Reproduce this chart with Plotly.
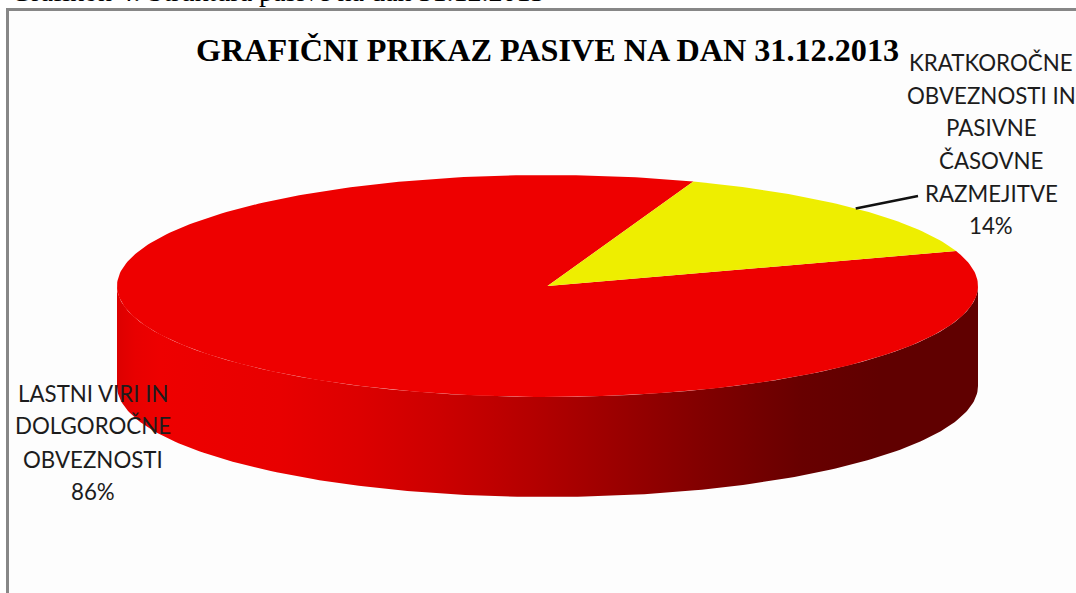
import math
import plotly.graph_objects as go

# ---- data ----
categories = ["LASTNI VIRI IN DOLGOROČNE OBVEZNOSTI",
              "KRATKOROČNE OBVEZNOSTI IN PASIVNE ČASOVNE RAZMEJITVE"]
values = [85.6, 14.4]
label_lines = [["LASTNI VIRI IN", "DOLGOROČNE", "OBVEZNOSTI"],
               ["KRATKOROČNE", "OBVEZNOSTI IN", "PASIVNE", "ČASOVNE", "RAZMEJITVE"]]
title_text = "GRAFIČNI PRIKAZ PASIVE NA DAN 31.12.2013"
caption_text = "Grafikon 4: Struktura pasive na dan 31.12.2013"

# ---- styling / geometry ----
W, H = 1076, 593
CX, CY, RX, RY, DEPTH = 547.5, 286.0, 430.5, 111.0, 100.0
START_ANGLE = 70.2           # upper edge of the yellow slice, measured anticlockwise from east
RED, YELLOW = "#EE0000", "#EEEE00"
TEXT = "#1c1c1c"
SIDE_STOPS = [(117, "#dc0000"), (135, "#e80000"), (160, "#ee0000"), (280, "#e80000"),
              (360, "#dc0000"), (440, "#cc0000"), (533, "#b40000"), (593, "#a20000"),
              (700, "#820000"), (800, "#680000"), (880, "#600000"), (978, "#600000")]


def pt(t_deg, dy=0.0):
    t = math.radians(t_deg)
    return CX + RX * math.cos(t), CY - RY * math.sin(t) + dy


def arc(a, b, dy=0.0, step=1.0):
    n = max(2, int(abs(b - a) / step))
    return [pt(a + (b - a) * i / n, dy) for i in range(n + 1)]


def wedge(a, b):
    pts = [(CX, CY)] + arc(a, b) + [(CX, CY)]
    return [p[0] for p in pts], [p[1] for p in pts]


total = sum(values)
sweep = [v / total * 360 for v in values]
yellow_a, yellow_b = START_ANGLE - sweep[1], START_ANGLE
red_a, red_b = START_ANGLE, START_ANGLE + sweep[0]
yellow_mid = (yellow_a + yellow_b) / 2

fig = go.Figure()

# front wall of the disc, gradient fill
front = arc(180, 360) + arc(360, 180, DEPTH)
x0, x1 = CX - RX, CX + RX
fig.add_trace(go.Scatter(
    x=[p[0] for p in front] + [front[0][0]],
    y=[p[1] for p in front] + [front[0][1]],
    mode="lines", line=dict(width=0), fill="toself",
    fillgradient=dict(type="horizontal", start=x0, stop=x1,
                      colorscale=[[(x - x0) / (x1 - x0), c] for x, c in SIDE_STOPS]),
    hoverinfo="skip", showlegend=False))

# top face
for (a, b), colour, name in (((red_a, red_b), RED, categories[0]),
                             ((yellow_a, yellow_b), YELLOW, categories[1])):
    xs, ys = wedge(a, b)
    fig.add_trace(go.Scatter(x=xs, y=ys, mode="lines", line=dict(width=0), fill="toself",
                             fillcolor=colour, name=name, hoverinfo="name", showlegend=False))

# leader line
lx, ly = pt(yellow_mid)
fig.add_trace(go.Scatter(x=[lx, 918], y=[ly, 196], mode="lines",
                         line=dict(color="#111111", width=2.5), hoverinfo="skip", showlegend=False))

ann = []


def line_text(text, x, y):
    ann.append(dict(x=x, y=y, xref="x", yref="y", text=text, showarrow=False,
                    xanchor="center", yanchor="middle",
                    font=dict(family="Lato", size=22.3, color=TEXT)))


LEFT_X, LEFT_Y = 93, [393, 425, 459, 491]
RIGHT_X, RIGHT_Y = 991, [62, 95, 127, 160, 193, 225]
for text, y in zip(label_lines[0] + [f"{values[0] / total * 100:.0f}%"], LEFT_Y):
    line_text(text, LEFT_X, y)
for text, y in zip(label_lines[1] + [f"{values[1] / total * 100:.0f}%"], RIGHT_Y):
    line_text(text, RIGHT_X, y)

ann.append(dict(x=547, y=50, xref="x", yref="y", text=f"<b>{title_text}</b>", showarrow=False,
                xanchor="center", yanchor="middle",
                font=dict(family="Liberation Serif", size=32.2, color="#000000")))
ann.append(dict(x=10, y=8, xref="x", yref="y", text=caption_text, showarrow=False,
                xanchor="left", yanchor="bottom", borderpad=0, captureevents=False,
                font=dict(family="Liberation Serif", size=28, color="#000000")))

shapes = [
    dict(type="rect", xref="x", yref="y", x0=8, x1=W, y0=10, y1=H, line_width=0,
         fillcolor="#fdfdfd", layer="below"),
    dict(type="line", xref="x", yref="y", x0=7.5, x1=7.5, y0=8, y1=H,
         line=dict(color="#878787", width=3), layer="below"),
    dict(type="line", xref="x", yref="y", x0=6, x1=W, y0=9.5, y1=9.5,
         line=dict(color="#878787", width=3), layer="below"),
]

fig.update_layout(
    width=W, height=H, margin=dict(l=0, r=0, t=0, b=0),
    paper_bgcolor="white", plot_bgcolor="rgba(0,0,0,0)",
    xaxis=dict(range=[0, W], visible=False, fixedrange=True),
    yaxis=dict(range=[H, 0], visible=False, fixedrange=True),
    annotations=ann, shapes=shapes, showlegend=False)

fig.write_html("out.html", config=dict(displayModeBar=False),
               post_script="document.body.style.margin='0';document.body.style.overflow='hidden';")
